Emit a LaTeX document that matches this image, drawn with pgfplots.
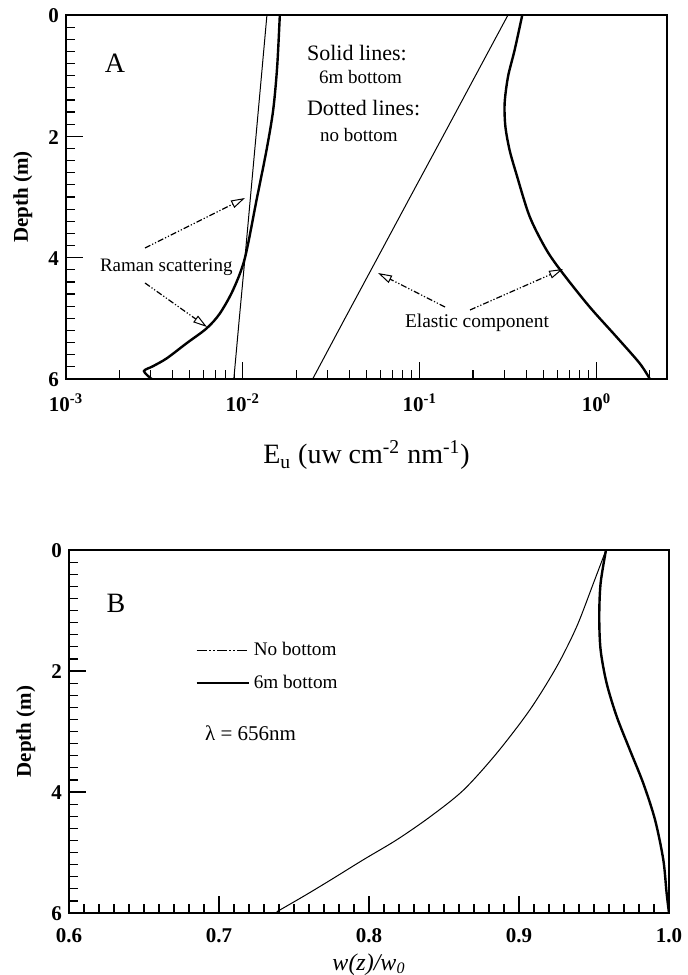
\documentclass[border=0pt]{standalone}
\usepackage{fontspec}
\setmainfont{Liberation Serif}
\usepackage{pgfplots}
\pgfplotsset{compat=1.18}
\usetikzlibrary{arrows.meta}

\pgfplotsset{
  depthaxis/.style={
    scale only axis,
    y dir=reverse,
    ymin=0, ymax=6,
    ytick={0,2,4,6},
    yticklabels={0,2,4,6},
    minor y tick num=9,
    ytick pos=left,
    xtick pos=lower,
    tick align=inside,
    major tick length=8.5pt,
    minor tick length=4.5pt,
    every tick/.style={black, line width=0.6pt},
    axis line style={line width=0.8pt},
    ticklabel style={font=\bfseries\fontsize{10.5}{12}\selectfont},
    yticklabel style={yshift=-0.5pt},
    ylabel={\bfseries Depth (m)},
    ylabel style={font=\fontsize{10.5}{12}\selectfont, at={(axis description cs:-0.072,0.5)}, anchor=center},
  }
}

\begin{document}
\begin{tikzpicture}
\useasboundingbox (0,0) rectangle (343.5pt,487.5pt);

% ---------------- Panel A ----------------
\begin{axis}[depthaxis,
  at={(33pt,298pt)}, anchor=south west,
  width=300.5pt, height=182pt,
  xmode=log, xmin=0.001, xmax=2.5,
  xtick={0.001,0.01,0.1,1},
  xticklabels={10\textsuperscript{-3},10\textsuperscript{-2},10\textsuperscript{-1},10\textsuperscript{0}},
  minor xtick={0.002,0.003,0.004,0.005,0.006,0.007,0.008,0.009,0.02,0.03,0.04,0.05,0.06,0.07,0.08,0.09,0.2,0.3,0.4,0.5,0.6,0.7,0.8,0.9,2},
  xticklabel style={yshift=-4pt},
  xlabel={E\textsubscript{u} (uw cm\textsuperscript{-2} nm\textsuperscript{-1})},
  xlabel style={font=\fontsize{14}{16}\selectfont, at={(axis description cs:0.5,-0.209)}, anchor=center},
]
% Raman, no bottom
\addplot[black, line width=0.5pt] coordinates {
(0.01368,0) (0.01274,1) (0.01186,2) (0.01104,3) (0.01028,4) (0.00955,5) (0.00889,6)};
% Raman, 6m bottom
\addplot[black, line width=1.2pt, smooth, tension=0.5] coordinates {
(0.01618,0) (0.01563,0.852) (0.01484,1.566) (0.01361,2.225) (0.01195,3.05) (0.01026,4.01)
(0.00881,4.53) (0.00741,4.92) (0.00624,5.165) (0.00481,5.41) (0.00371,5.66)
(0.00310,5.79) (0.00276,5.87) (0.00305,6.0)};
% Elastic, no bottom
\addplot[black, line width=0.5pt] coordinates {
(0.3155,0) (0.2065,1) (0.1352,2) (0.0883,3) (0.0578,4) (0.0378,5) (0.0248,6)};
% Elastic, 6m bottom
\addplot[black, line width=1.2pt, smooth] coordinates {
(0.380,0) (0.344,0.577) (0.3155,1.017) (0.302,1.456) (0.305,1.84) (0.322,2.225)
(0.351,2.61) (0.418,3.32) (0.520,3.87) (0.645,4.26) (0.912,4.81) (1.29,5.30)
(1.75,5.74) (2.0,6.0)};
\end{axis}

% ---------------- Panel B ----------------
\begin{axis}[depthaxis,
  at={(34.5pt,31pt)}, anchor=south west,
  width=300pt, height=181.5pt,
  xmin=0.6, xmax=1.0,
  xtick={0.6,0.7,0.8,0.9,1.0},
  xticklabels={0.6,0.7,0.8,0.9,1.0},
  minor x tick num=9,
  xticklabel style={yshift=-4pt},
  xlabel={\itshape w(z)/w\textsubscript{0}},
  xlabel style={font=\fontsize{12}{14}\selectfont, at={(axis description cs:0.5,-0.142)}, anchor=center},
  legend style={draw=none, fill=none, at={(axis description cs:0.20,0.768)}, anchor=north west,
    font=\fontsize{9.6}{11}\selectfont, row sep=4pt, cells={anchor=west}},
  legend image code/.code={\draw[#1] (0pt,0pt) -- (26pt,0pt);},
]
\addlegendimage{black, line width=0.5pt, dash pattern=on 5pt off 1.2pt on 0.8pt off 1.2pt on 0.8pt off 1.2pt}
\addlegendentry{No bottom}
\addlegendimage{black, line width=1.2pt}
\addlegendentry{6m bottom}
% No bottom
\addplot[black, line width=0.5pt, smooth, forget plot] coordinates {
(0.958,0) (0.9496,0.55) (0.9384,1.27) (0.9251,1.93) (0.9073,2.64) (0.8851,3.36)
(0.8629,3.97) (0.8407,4.41) (0.8185,4.79) (0.7962,5.12) (0.776,5.43) (0.758,5.70) (0.7385,5.98)};
% 6m bottom
\addplot[black, line width=1.2pt, smooth, forget plot] coordinates {
(0.958,0) (0.9544,0.55) (0.9535,1.10) (0.9544,1.65) (0.9584,2.20) (0.9651,2.75)
(0.974,3.31) (0.9829,3.86) (0.9907,4.46) (0.9962,5.12) (0.9984,5.67) (1.0,6.0)};
\end{axis}

% ---------------- Annotations (pixel frame) ----------------
\begin{scope}[shift={(0pt,487.5pt)}, x=0.5pt, y=-0.5pt]
\node[font=\fontsize{14}{16}\selectfont] at (115,63) {A};
\node[font=\fontsize{14}{16}\selectfont] at (116,603) {B};
\node[anchor=west, font=\fontsize{11}{13}\selectfont] at (300,53) {Solid lines:};
\node[anchor=west, font=\fontsize{9.5}{11}\selectfont] at (312,77) {6m bottom};
\node[anchor=west, font=\fontsize{11}{13}\selectfont] at (300,108) {Dotted lines:};
\node[anchor=west, font=\fontsize{9.5}{11}\selectfont] at (313,135) {no bottom};
\node[anchor=west, font=\fontsize{9.5}{11}\selectfont] at (93,267) {Raman scattering};
\node[anchor=west, font=\fontsize{9.7}{11}\selectfont] at (398,323) {Elastic component};
\node[anchor=west, font=\fontsize{10.5}{12}\selectfont] at (198,733) {λ = 656nm};
\begin{scope}[line width=0.6pt, dash pattern=on 3pt off 1pt on 0.6pt off 1pt on 0.6pt off 1pt,
  -{Triangle[open, length=7pt, width=4pt, line width=0.5pt]}]
\draw (145,248) -- (245,198);
\draw (145,283) -- (207,327);
\draw (445,307) -- (378,273);
\draw (470,310) -- (563,269);
\end{scope}
\end{scope}
\end{tikzpicture}
\end{document}
